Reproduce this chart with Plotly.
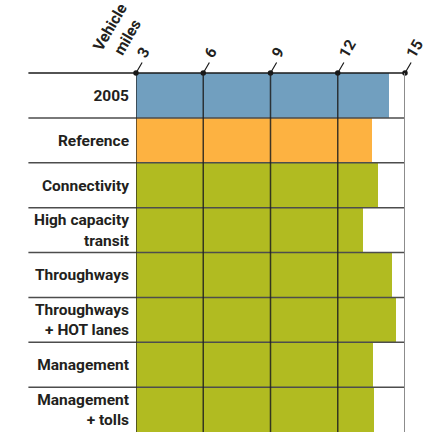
import plotly.graph_objects as go

# Daily vehicle miles travelled per scenario
scenarios = [
    "2005",
    "Reference",
    "Connectivity",
    "High capacity<br>transit",
    "Throughways",
    "Throughways<br>+ HOT lanes",
    "Management",
    "Management<br>+ tolls",
]
vehicle_miles = [14.27, 13.51, 13.78, 13.11, 14.44, 14.58, 13.56, 13.6]
tick_values = [3, 6, 9, 12, 15]
axis_title = "Vehicle<br>miles"

BLUE = "#719fbf"
ORANGE = "#fdb241"
GREEN = "#b1bb21"
bar_colors = [BLUE, ORANGE] + [GREEN] * (len(scenarios) - 2)

TEXT = "#231f20"
INK = "#1a1a1a"
FONT = "Roboto"
FS = 15.5

W, H = 426, 432
M_L, M_R, M_T, M_B = 135.5, 20.5, 73, 0
plot_w = W - M_L - M_R
plot_h = H - M_T - M_B

fig = go.Figure()
fig.add_trace(
    go.Bar(
        y=scenarios,
        x=[v - tick_values[0] for v in vehicle_miles],
        base=tick_values[0],
        orientation="h",
        marker=dict(color=bar_colors, line=dict(width=0)),
        hoverinfo="skip",
    )
)

# dots where the grid lines meet the top rule, on an overlay axis spanning 0..1
fig.add_trace(
    go.Scatter(x=tick_values, y=[1] * len(tick_values), yaxis="y2", mode="markers",
               cliponaxis=False, marker=dict(color=INK, size=5.5),
               hoverinfo="skip")
)

shapes = []
left_edge = -0.40  # separators run out under the category labels

# top rule
shapes.append(dict(type="line", xref="paper", yref="paper", x0=left_edge, x1=1,
                   y0=1, y1=1, line=dict(color=INK, width=1.5), layer="above"))
# row separators
for i in range(1, len(scenarios)):
    shapes.append(dict(type="line", xref="paper", yref="y", x0=left_edge, x1=1,
                       y0=i - 0.5, y1=i - 0.5,
                       line=dict(color="#4d4d4d", width=1.5), layer="above"))
# vertical grid lines
for t in tick_values:
    last = t == tick_values[-1]
    shapes.append(dict(type="line", xref="x", yref="paper", x0=t, x1=t, y0=0, y1=1,
                       line=dict(color="#8c8c8c" if last else "rgba(30,30,30,0.85)",
                                 width=2 if last else 1.5),
                       layer="above"))

annotations = [
    dict(
        text=axis_title,
        xref="paper", yref="paper",
        x=-17 / plot_w,
        y=1 + 41 / plot_h,
        xanchor="center", yanchor="middle",
        showarrow=False, textangle=-60,
        font=dict(family=FONT, size=FS, color=TEXT, weight="bold"),
        align="center",
    )
]
# slanted tick marks rising from each grid dot
for t in tick_values:
    annotations.append(dict(
        text="", xref="x", yref="paper", x=t, y=1,
        showarrow=True, arrowhead=0, arrowwidth=1.2, arrowcolor=INK,
        ax=7, ay=-12, standoff=0, startstandoff=0,
    ))

fig.update_layout(
    width=W,
    height=H,
    margin=dict(l=M_L, r=M_R, t=M_T, b=M_B, pad=0, autoexpand=False),
    paper_bgcolor="white",
    plot_bgcolor="white",
    showlegend=False,
    bargap=0,
    shapes=shapes,
    annotations=annotations,
    font=dict(family=FONT, color=TEXT),
    xaxis=dict(
        side="top",
        range=[tick_values[0], tick_values[-1]],
        tickvals=tick_values,
        ticktext=[str(t) for t in tick_values],
        tickangle=-60,
        ticks="",
        ticklabelstandoff=6,
        ticklabelshift=3,
        ticklabeloverflow="allow",
        automargin=False,
        showgrid=False,
        zeroline=False,
        showline=False,
        tickfont=dict(family=FONT, size=FS, color=TEXT, weight="bold"),
    ),
    yaxis=dict(
        autorange="reversed",
        ticks="",
        showgrid=False,
        zeroline=False,
        showline=False,
        automargin=False,
        ticklabelstandoff=6,
        tickfont=dict(family=FONT, size=FS, color=TEXT, weight="bold"),
    ),
    yaxis2=dict(
        overlaying="y",
        range=[0, 1],
        visible=False,
    ),
)

fig.write_html("out.html")
